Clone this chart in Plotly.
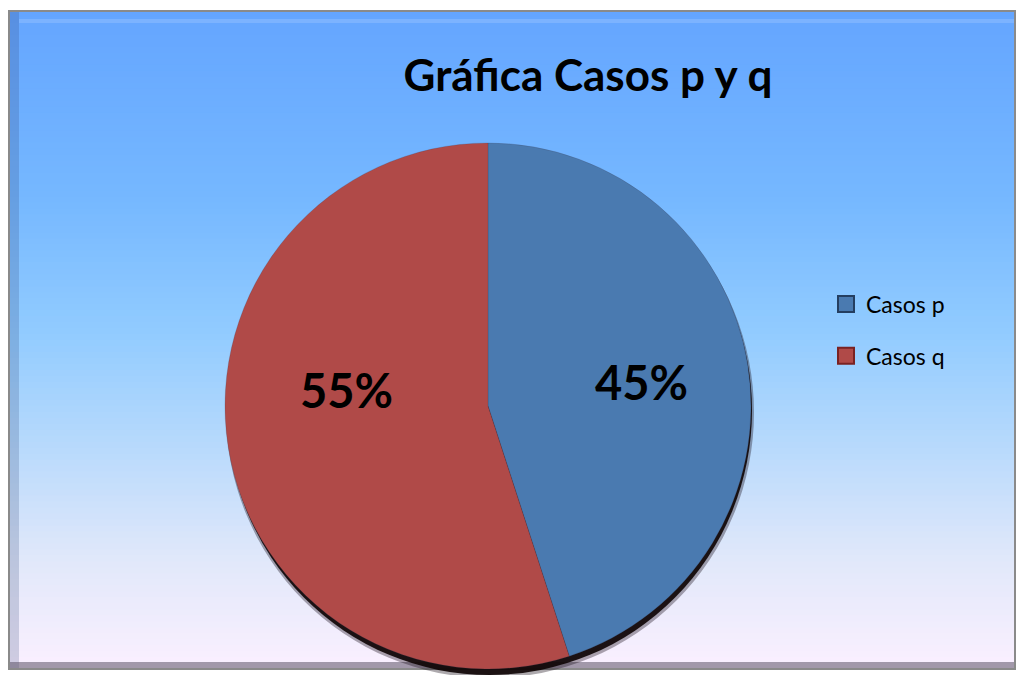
import math
import plotly.graph_objects as go

labels = ["Casos p", "Casos q"]
values = [45, 55]
colors = ["#4A7AB0", "#B04A48"]
edge_colors = ["#243E60", "#7A2222"]
title_text = "Gráfica Casos p y q"

W, H = 1017, 675
FONT = "Lato"

# background gradient stops (y from top in px, rgb)
grad_stops = [
    (10, (100, 165, 255)),
    (200, (118, 184, 255)),
    (330, (145, 203, 255)),
    (450, (185, 218, 252)),
    (560, (225, 232, 250)),
    (670, (251, 240, 255)),
]

def interp(y):
    for (y0, c0), (y1, c1) in zip(grad_stops[:-1], grad_stops[1:]):
        if y0 <= y <= y1:
            t = (y - y0) / (y1 - y0)
            return tuple(round(a + (b - a) * t) for a, b in zip(c0, c1))
    return grad_stops[-1][1]

shapes = []
L, R, T, B = 9, 1015, 11, 669
n = 110
step = (B - T) / n
for i in range(n):
    y0 = T + i * step
    c = interp(y0 + step / 2)
    y1 = min(B, y0 + step + 2)
    shapes.append(dict(type="rect", xref="paper", yref="paper",
                       x0=L / W, x1=R / W, y0=1 - y1 / H, y1=1 - y0 / H,
                       line=dict(width=0), fillcolor="rgb(%d,%d,%d)" % c, layer="below"))
# bevel edges
shapes.append(dict(type="rect", xref="paper", yref="paper", x0=L / W, x1=(L + 10) / W,
                   y0=1 - B / H, y1=1 - T / H, line=dict(width=0),
                   fillcolor="rgba(40,60,110,0.20)", layer="below"))
shapes.append(dict(type="rect", xref="paper", yref="paper", x0=L / W, x1=R / W,
                   y0=1 - B / H, y1=1 - (B - 7) / H, line=dict(width=0),
                   fillcolor="rgba(90,80,100,0.55)", layer="below"))
shapes.append(dict(type="rect", xref="paper", yref="paper", x0=(L + 10) / W, x1=R / W,
                   y0=1 - (T + 12) / H, y1=1 - (T + 8) / H, line=dict(width=0),
                   fillcolor="rgba(255,255,255,0.15)", layer="below"))
# outer gray border
shapes.append(dict(type="rect", xref="paper", yref="paper", x0=L / W, x1=R / W,
                   y0=1 - B / H, y1=1 - T / H, line=dict(width=2, color="#8A8A8A"),
                   fillcolor="rgba(0,0,0,0)", layer="below"))
# pie shadow (soft outer + dark inner)
cx, cy, r = 488, 406, 263
shapes.append(dict(type="circle", xref="paper", yref="paper",
                   x0=(cx - r + 1) / W, x1=(cx + r + 3) / W,
                   y0=1 - (cy + r + 9) / H, y1=1 - (cy - r + 4) / H,
                   line=dict(width=0), fillcolor="rgba(20,10,20,0.35)", layer="below"))
shapes.append(dict(type="circle", xref="paper", yref="paper",
                   x0=(cx - r + 2) / W, x1=(cx + r + 1) / W,
                   y0=1 - (cy + r + 6) / H, y1=1 - (cy - r + 3) / H,
                   line=dict(width=0), fillcolor="rgba(15,5,5,0.92)", layer="below"))

fig = go.Figure()
fig.add_trace(go.Pie(
    labels=labels, values=values, sort=False, direction="clockwise", rotation=0,
    marker=dict(colors=colors, line=dict(color="rgba(60,60,80,0.35)", width=0.6)),
    textinfo="none", showlegend=False, hoverinfo="label+percent",
    domain=dict(x=[(cx - r) / W, (cx + r) / W], y=[1 - (cy + r) / H, 1 - (cy - r) / H]),
))

# legend entries (one per slice, built from the data lists)
for lab, col, ec in zip(labels, colors, edge_colors):
    fig.add_trace(go.Scatter(
        x=[None], y=[None], mode="markers", name=lab, legendgroup=lab,
        marker=dict(symbol="square", size=17, color=col, line=dict(color=ec, width=2)),
    ))

# percentage labels at slice mid-angles
label_frac = 0.59
label_shift = [(0, 0), (12, 40)]
total = sum(values)
cum = 0
annotations = []
for v, (xs, ys) in zip(values, label_shift):
    mid = (cum + v / 2) / total
    th = 2 * math.pi * mid
    px = cx + label_frac * r * math.sin(th)
    py = cy - label_frac * r * math.cos(th)
    annotations.append(dict(
        x=px / W, y=1 - py / H, xref="paper", yref="paper", showarrow=False,
        text="<b>%d%%</b>" % round(100 * v / total), xshift=xs, yshift=ys,
        font=dict(family=FONT, size=47, color="black"),
        xanchor="center", yanchor="middle"))
    cum += v

fig.update_layout(
    width=W, height=H,
    margin=dict(l=0, r=0, t=0, b=0),
    paper_bgcolor="white", plot_bgcolor="rgba(0,0,0,0)",
    shapes=shapes, annotations=annotations,
    xaxis=dict(visible=False, domain=[0.98, 0.99]),
    yaxis=dict(visible=False, domain=[0.98, 0.99]),
    title=dict(text="<b>" + title_text + "</b>", x=588 / W, xanchor="center",
               y=1 - 76 / H, yanchor="middle",
               font=dict(family=FONT, size=44, color="black")),
    legend=dict(x=826 / W, xanchor="left", y=1 - 330 / H, yanchor="middle",
                font=dict(family=FONT, size=23, color="black"),
                bgcolor="rgba(0,0,0,0)", tracegroupgap=19, traceorder="grouped",
                itemwidth=30),
    showlegend=True,
)

fig.write_html("out.html", config={"displayModeBar": False},
               post_script="document.body.style.margin='0';")
